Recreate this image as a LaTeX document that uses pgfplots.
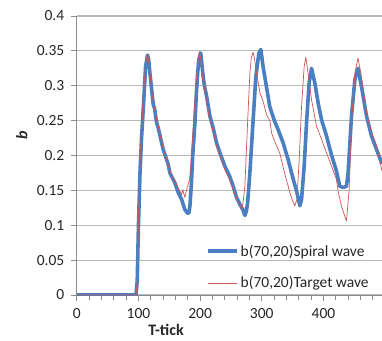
\documentclass[border=0pt]{standalone}
\usepackage{pgfplots}
\pgfplotsset{compat=1.18}
\usepackage{fontspec}
\setmainfont{Carlito}
\definecolor{sblue}{HTML}{4A80C2}
\definecolor{tred}{HTML}{CC5555}
\definecolor{gridc}{HTML}{B8B8B8}
\definecolor{axc}{HTML}{8C8C8C}
\begin{document}
\begin{tikzpicture}
\begin{axis}[
  scale only axis, width=305.2pt, height=279pt,
  xmin=0, xmax=495, ymin=0, ymax=0.4,
  axis x line*=bottom, axis y line*=left,
  axis line style={axc, line width=1pt},
  xtick={0,100,200,300,400}, xticklabels={0,100,200,300,400},
  minor xtick={20,40,60,80,120,140,160,180,220,240,260,280,320,340,360,380,420,440,460,480},
  ytick={0,0.05,0.1,0.15,0.2,0.25,0.3,0.35,0.4},
  yticklabels={0,0.05,0.1,0.15,0.2,0.25,0.3,0.35,0.4},
  tick align=outside, major tick length=6pt, minor tick length=5pt,
  tick style={axc, line width=0.8pt},
  ymajorgrids, grid style={gridc, line width=1.2pt},
  ticklabel style={font=\fontsize{15.5}{18}\selectfont, text=black!85},
  xticklabel style={yshift=-4pt},
  yticklabel style={xshift=-3pt},
  legend style={at={(0.423,0.188)}, anchor=north west, draw=none, fill=none,
    font=\fontsize{15.5}{18}\selectfont, text=black!85, inner sep=0pt,
    row sep=15pt, legend cell align=left},
  legend image code/.code={\draw[#1] (0pt,0pt) -- (29pt,0pt);},
]
\addplot[sblue, line width=3.6pt, line join=round] coordinates {
(0,0) (96,0) (98,0.02) (100,0.1) (102.5,0.175) (105,0.225) (108,0.27)
(111.6,0.328) (114.8,0.344) (116.5,0.338) (118.6,0.318) (121,0.298) (124,0.273)
(126,0.268) (129.5,0.247) (132,0.24) (135,0.228) (140,0.209) (145.7,0.194)
(148,0.188) (151,0.175) (155,0.168) (159,0.161) (164.5,0.147) (170,0.137)
(175,0.123) (179.7,0.117) (182,0.118) (183.5,0.128) (186,0.161) (188,0.2)
(191.6,0.247) (194,0.29) (196,0.318) (198,0.338) (201,0.347) (203,0.33)
(205,0.313) (207,0.3) (210.5,0.285) (216,0.256) (221,0.24) (226.7,0.218)
(232,0.204) (240,0.185) (248,0.17) (253.6,0.156) (259,0.14) (264.5,0.13)
(270,0.121) (272.6,0.114) (275,0.12) (277,0.132) (280.7,0.175) (286,0.251)
(290.4,0.313) (295.3,0.347) (298.5,0.352) (302,0.328) (307.5,0.299) (313,0.27)
(320,0.251) (326.6,0.237) (334.7,0.218) (342.8,0.194) (351,0.166) (356.4,0.149)
(361.8,0.128) (364.5,0.137) (368.8,0.185) (372.6,0.247) (376.8,0.304)
(380.7,0.325) (386,0.304) (391.5,0.275) (397,0.251) (405,0.228) (413,0.201)
(421,0.178) (426.6,0.156) (432,0.154) (437.4,0.156) (440,0.175) (445.5,0.256)
(451,0.309) (456,0.325) (461.7,0.299) (470,0.256) (478,0.228) (486,0.209)
(495,0.188)
};
\addlegendentry{b(70,20)Spiral wave}
\addplot[tred, line width=0.7pt, line join=round] coordinates {
(0,0) (96,0) (98,0.02) (100,0.11) (102.5,0.19) (105,0.24) (108,0.285)
(111,0.325) (114,0.345) (116,0.34) (119,0.315) (124,0.275) (130,0.25)
(135,0.23) (140,0.21) (146,0.195) (151,0.178) (156,0.168) (162,0.158)
(167,0.149) (170,0.144) (172,0.151) (175,0.14) (177.6,0.149) (183,0.166)
(186,0.2) (190,0.26) (194,0.31) (197,0.34) (198.6,0.349) (201,0.34)
(204,0.31) (210,0.28) (216,0.25) (221,0.235) (227,0.212) (232,0.2)
(240,0.18) (248,0.165) (254,0.15) (260,0.137) (264,0.13) (268,0.124)
(270,0.135) (272.6,0.156) (277,0.247) (280.7,0.318) (283,0.34) (286,0.348)
(288,0.34) (291.5,0.318) (297,0.29) (302,0.278) (308,0.258) (313,0.25)
(316,0.232) (321,0.22) (329,0.204) (337,0.175) (345.5,0.147) (350,0.135)
(353.6,0.128) (357,0.137) (360.7,0.194) (364.5,0.27) (368.8,0.328)
(371.5,0.341) (375,0.318) (380.7,0.28) (388.8,0.242) (397,0.223) (405,0.204)
(413,0.185) (421,0.166) (424,0.148) (429,0.128) (434.7,0.113) (437.4,0.106)
(441.7,0.151) (445.5,0.246) (451,0.318) (456,0.34) (461.7,0.313) (470,0.261)
(478,0.233) (486,0.214) (495,0.178)
};
\addlegendentry{b(70,20)Target wave}
\end{axis}
\node[font=\fontsize{16}{18}\selectfont\bfseries, text=black!85] at ([xshift=89.2pt,yshift=-35pt]current axis.south west) {T-tick};
\node[font=\fontsize{16}{18}\selectfont\bfseries\itshape, text=black!85, rotate=90] at ([xshift=-55pt,yshift=160pt]current axis.south west) {b};
\pgfresetboundingbox
\path (current axis.south west) ++(-76.8pt,-45pt) rectangle ++(382pt,340pt);
\end{tikzpicture}
\end{document}
